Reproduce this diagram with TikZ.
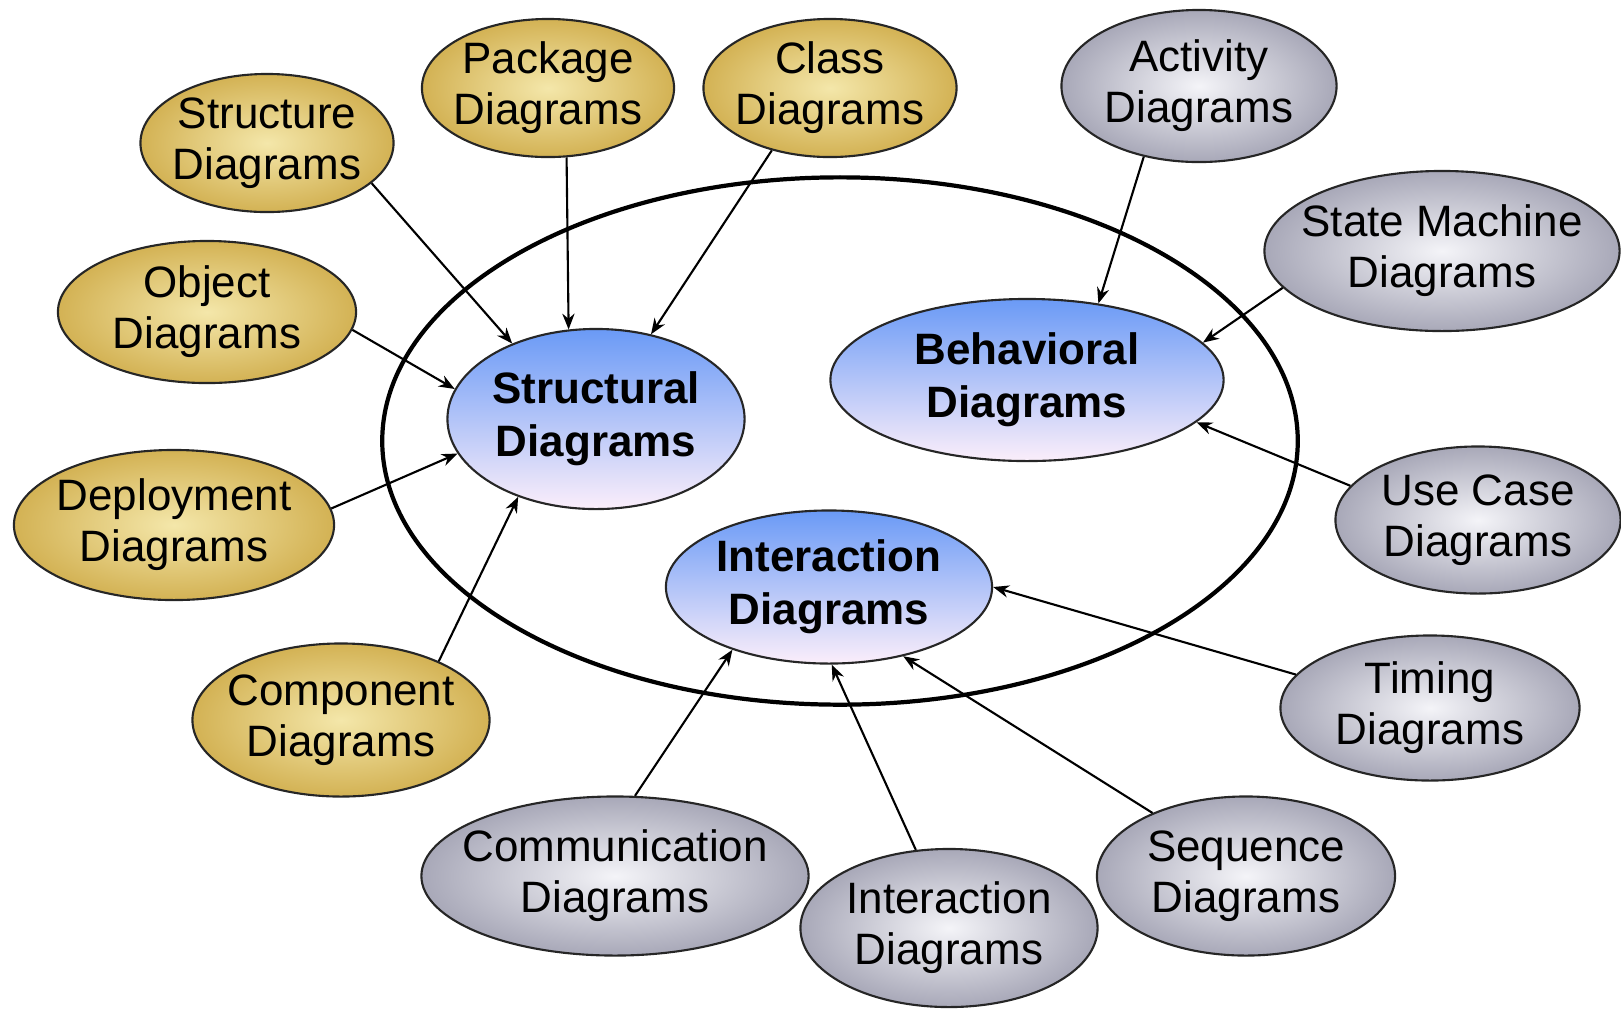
\documentclass[tikz,border=0pt]{standalone}
\usepackage{fontspec}
\setmainfont{Liberation Sans}
\usepackage{tikz}
\usetikzlibrary{shapes.geometric,arrows.meta}
\definecolor{goldin}{HTML}{F4E7AA}
\definecolor{goldout}{HTML}{D3B254}
\definecolor{greyin}{HTML}{F4F4F8}
\definecolor{greyout}{HTML}{A8A8B8}
\definecolor{bluetop}{HTML}{6A9AF6}
\definecolor{bluemid}{HTML}{AACAF8}
\definecolor{bluebot}{HTML}{FBEEFA}

\begin{document}
\begin{tikzpicture}[x=0.01cm, y=-0.01cm,
    every node/.style={ellipse, draw=black!85, line width=0.6pt, align=center,
        inner xsep=-10pt, inner ysep=-2pt,
        font=\fontsize{12.5}{14.5}\selectfont},
    structkind/.style={inner color=goldin, outer color=goldout},
    behavkind/.style={inner color=greyin, outer color=greyout},
    maingroup/.style={top color=bluetop, middle color=bluemid, bottom color=bluebot,
        font=\fontsize{12.5}{15}\selectfont\bfseries},
    link/.style={line width=0.6pt, -{Stealth[length=4.5pt,width=3.5pt]}}]
    \useasboundingbox (0,0) rectangle (1621,1011);

    % outer ring
    \node[draw=black, line width=1.2pt, minimum width=9.15cm, minimum height=5.27cm] (ring) at (840,441) {};

    % the three groups
    \node[maingroup, minimum width=2.97cm, minimum height=1.80cm] (structural) at (596,419) {Structural\\Diagrams};
    \node[maingroup, minimum width=3.93cm, minimum height=1.62cm] (behavioral) at (1027,380) {Behavioral\\Diagrams};
    \node[maingroup, minimum width=3.26cm, minimum height=1.53cm] (interaction) at (829,587) {Interaction\\Diagrams};

    % structural kinds
    \node[structkind, minimum width=2.53cm, minimum height=1.38cm] (structure) at (267,143) {Structure\\Diagrams};
    \node[structkind, minimum width=2.52cm, minimum height=1.38cm] (package) at (548,88) {Package\\Diagrams};
    \node[structkind, minimum width=2.53cm, minimum height=1.38cm] (class) at (830,88) {Class\\Diagrams};
    \node[structkind, minimum width=2.98cm, minimum height=1.42cm] (object) at (207,312) {Object\\Diagrams};
    \node[structkind, minimum width=3.20cm, minimum height=1.50cm] (deployment) at (174,525) {Deployment\\Diagrams};
    \node[structkind, minimum width=2.97cm, minimum height=1.53cm] (component) at (341,720) {Component\\Diagrams};

    % behavioral kinds
    \node[behavkind, minimum width=2.75cm, minimum height=1.52cm] (activity) at (1199,86) {Activity\\Diagrams};
    \node[behavkind, minimum width=3.55cm, minimum height=1.60cm] (statemachine) at (1442,251) {State Machine\\Diagrams};
    \node[behavkind, minimum width=2.85cm, minimum height=1.47cm] (usecase) at (1478,520) {Use Case\\Diagrams};
    \node[behavkind, minimum width=2.99cm, minimum height=1.45cm] (timing) at (1430,708) {Timing\\Diagrams};
    \node[behavkind, minimum width=2.98cm, minimum height=1.59cm] (sequence) at (1246,876) {Sequence\\Diagrams};
    \node[behavkind, minimum width=2.97cm, minimum height=1.58cm] (interactionov) at (949,928) {Interaction\\Diagrams};
    \node[behavkind, minimum width=3.87cm, minimum height=1.59cm] (communication) at (615,876) {Communication\\Diagrams};

    \draw[link] (structure.-21) -- (structural.138);
    \draw[link] (package.-75) -- (structural.107);
    \draw[link] (class.-133) -- (structural.57);
    \draw[link] (object.-7) -- (structural.168);
    \draw[link] (deployment.6) -- (structural.194);
    \draw[link] (component.31) -- (structural.-135);

    \draw[link] (activity.-128) -- (behavioral.47);
    \draw[link] (statemachine.-167) -- (behavioral.12);
    \draw[link] (usecase.165) -- (behavioral.-14);

    \draw[link] (timing.166) -- (interaction.0);
    \draw[link] (sequence.146) -- (interaction.-43);
    \draw[link] (interactionov.113) -- (interaction.-88);
    \draw[link] (communication.76) -- (interaction.-147);

\end{tikzpicture}
\end{document}
